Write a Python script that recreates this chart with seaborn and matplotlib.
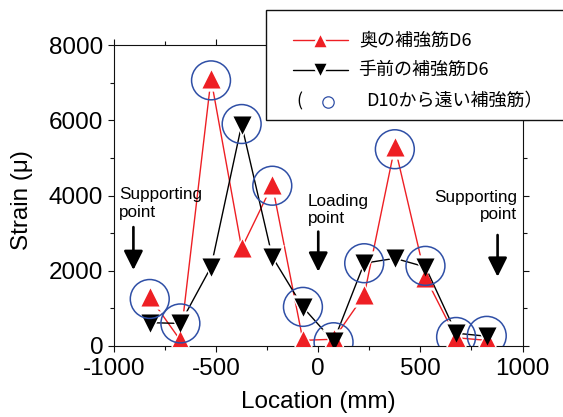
import matplotlib
matplotlib.use("Agg")
import matplotlib.pyplot as plt
from matplotlib.lines import Line2D
from matplotlib.patches import Rectangle
from matplotlib.ticker import MultipleLocator
import seaborn as sns
import pandas as pd

# ---------------- data ----------------
location = [-825, -675, -525, -375, -225, -75, 75, 225, 375, 525, 675, 825]
strain_back = [1300, 150, 7100, 2600, 4280, 150, 180, 1350, 5300, 1820, 220, 150]    # 奥の補強筋D6
strain_front = [620, 600, 2100, 5880, 2370, 1030, 120, 2200, 2330, 2100, 340, 260]   # 手前の補強筋D6
circle_x = [-825, -675, -525, -375, -225, -75, 75, 225, 375, 525, 675, 825]
circle_y = [1250, 600, 7060, 5900, 4260, 1040, 100, 2200, 5230, 2130, 240, 270]      # D10から遠い補強筋

arrow_x = [-905, 0, 878]
arrow_top = [3160, 3040, 2950]
arrow_bottom = [2020, 1975, 1840]

labels = ["奥の補強筋D6", "手前の補強筋D6", "D10から遠い補強筋）"]
x_ticks = [-1000, -500, 0, 500, 1000]
y_ticks = [0, 2000, 4000, 6000, 8000]

RED = "#ee1f24"
BLACK = "#000000"
BLUE = "#2f4fa6"

sns.set_style("ticks")
plt.rcParams["font.family"] = ["Liberation Sans", "DejaVu Sans"]
plt.rcParams["axes.unicode_minus"] = False
plt.rcParams["text.color"] = "black"
plt.rcParams["axes.labelcolor"] = "black"
plt.rcParams["xtick.color"] = "black"
plt.rcParams["ytick.color"] = "black"
plt.rcParams["xtick.labelcolor"] = "black"
plt.rcParams["ytick.labelcolor"] = "black"
CJK = ["Noto Sans CJK JP", "DejaVu Sans"]

W, H = 563, 417
fig = plt.figure(figsize=(W / 100, H / 100), dpi=100)
ax = fig.add_axes([114 / W, 1 - 346 / H, (522.5 - 114) / W, (346 - 45) / H])

def fx(px):
    return px / W

def fy(py):
    return 1 - py / H

df_b = pd.DataFrame({"x": location, "y": strain_back})
df_f = pd.DataFrame({"x": location, "y": strain_front})
df_c = pd.DataFrame({"x": circle_x, "y": circle_y})

TRI = 13.0
MASK = 17.5

sns.lineplot(data=df_b, x="x", y="y", color=RED, lw=1.0, sort=False, ax=ax, zorder=2)
sns.scatterplot(data=df_b, x="x", y="y", marker="^", s=MASK ** 2, color="white", linewidth=0, ax=ax, zorder=3)
sns.lineplot(data=df_f, x="x", y="y", color=BLACK, lw=1.0, sort=False, ax=ax, zorder=4)
sns.scatterplot(data=df_f, x="x", y="y", marker="v", s=MASK ** 2, color="white", linewidth=0, ax=ax, zorder=5)
sns.scatterplot(data=df_b, x="x", y="y", marker="^", s=TRI ** 2, color=RED, linewidth=0, ax=ax, zorder=6)
sns.scatterplot(data=df_f, x="x", y="y", marker="v", s=TRI ** 2, color=BLACK, linewidth=0, ax=ax, zorder=7)
ax.scatter(df_c["x"], df_c["y"], marker="o", s=28 ** 2, facecolors="none", edgecolors=BLUE,
           linewidths=1.1, zorder=8)

# axes
ax.set_xlim(-1000, 1000)
ax.set_ylim(0, 8000)
ax.set_xticks(x_ticks)
ax.set_yticks(y_ticks)
ax.xaxis.set_minor_locator(MultipleLocator(250))
ax.yaxis.set_minor_locator(MultipleLocator(1000))
for s in ax.spines.values():
    s.set_visible(True)
    s.set_linewidth(0.8)
    s.set_color("#111111")
ax.tick_params(which="both", direction="out", top=True, right=True, width=0.8, color="#111111")
ax.tick_params(which="major", length=4.3, labelsize=17.5, labelcolor="black")
ax.tick_params(which="minor", length=2.8)
ax.tick_params(axis="x", which="major", pad=4.3)
ax.tick_params(axis="y", which="major", pad=3.5)
ax.grid(False)

ax.set_xlabel("Location (mm)", fontsize=17.5, va="baseline", color="black")
ax.xaxis.set_label_coords(0.5, (346 - 408) / 301)
ax.set_ylabel("Strain (μ)", fontsize=17.5, va="center", color="black")
ax.yaxis.set_label_coords((22 - 114) / 408.5, (346 - 200) / 301)

# annotations (y = baseline of the last line)
ax.text(-977, 3437, "Supporting\npoint", fontsize=12.3, ha="left", va="baseline", linespacing=1.22,
        color="black")
ax.text(-53, 3261, "Loading\npoint", fontsize=12.3, ha="left", va="baseline", linespacing=1.22,
        color="black")
ax.text(973, 3367, "Supporting\npoint", fontsize=12.3, ha="right", va="baseline",
        multialignment="right", linespacing=1.22, color="black")
for xa, yt, yb in zip(arrow_x, arrow_top, arrow_bottom):
    ax.annotate("", xy=(xa, yb), xytext=(xa, yt),
                arrowprops=dict(arrowstyle="-|>,head_length=0.58,head_width=0.29",
                                mutation_scale=20, lw=1.9, color="black",
                                shrinkA=0, shrinkB=0))

# legend (box partially outside the figure, as in the reference)
fig.add_artist(Rectangle((fx(266), fy(120)), fx(620) - fx(266), fy(10) - fy(120),
                         transform=fig.transFigure, facecolor="white", edgecolor="#111111",
                         linewidth=1.0, zorder=20, clip_on=False))
rows = [40, 70, 101.5]
for yy, col, mk in [(rows[0], RED, "^"), (rows[1], BLACK, "v")]:
    fig.add_artist(Line2D([fx(293), fx(348)], [fy(yy), fy(yy)], color=col, lw=1.0,
                          transform=fig.transFigure, zorder=21))
    fig.add_artist(Line2D([fx(320)], [fy(yy)], color=col, marker=mk, markersize=11.5,
                          markeredgecolor="white", markeredgewidth=1.8, linestyle="none",
                          transform=fig.transFigure, zorder=22))
fig.add_artist(Line2D([fx(328)], [fy(rows[2])], marker="o", markersize=8.2, markerfacecolor="none",
                      markeredgecolor=BLUE, markeredgewidth=0.9, linestyle="none",
                      transform=fig.transFigure, zorder=22))
fig.text(fx(359), fy(rows[0]), labels[0], family=CJK, fontsize=13, va="center", ha="left", zorder=23,
         color="black")
fig.text(fx(358), fy(rows[1]), labels[1], family=CJK, fontsize=13, va="center", ha="left", zorder=23,
         color="black")
fig.text(fx(296), fy(rows[2]), "(", family=CJK, fontsize=13, va="center", ha="left", zorder=23,
         color="black")
fig.text(fx(366), fy(rows[2]), labels[2], family=CJK, fontsize=13, va="center", ha="left", zorder=23,
         color="black")

fig.savefig("out.png", dpi=100)
